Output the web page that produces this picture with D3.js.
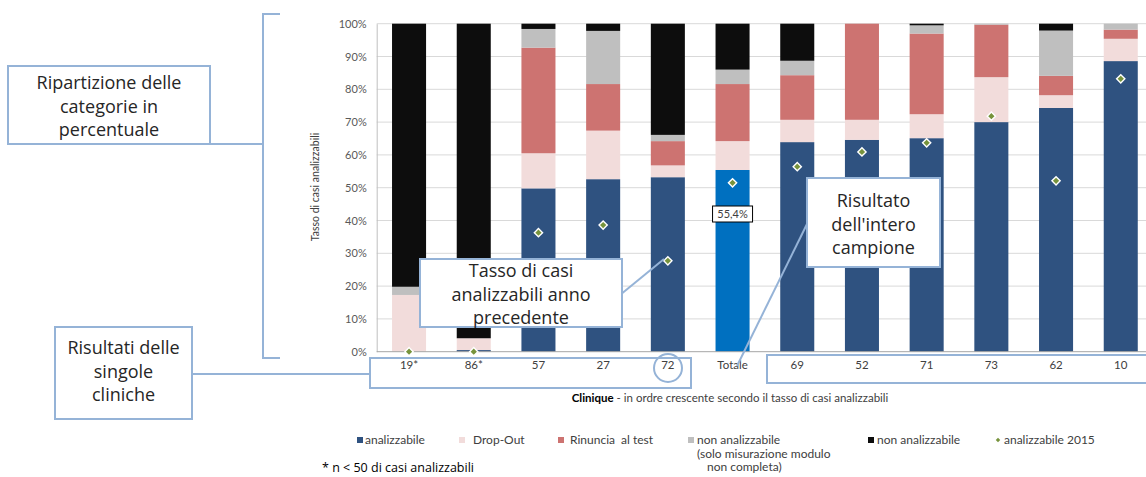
<!DOCTYPE html>
<html><head><meta charset="utf-8">
<script src="https://cdn.jsdelivr.net/npm/d3@7"></script>
<style>
body{margin:0;background:#fff;}
svg{display:block;}
</style></head>
<body>
<svg id="c" width="1146" height="477"></svg>
<script>
const categories = ["19*","86*","57","27","72","Totale","69","52","71","73","62","10"];
const analizzabile = [0, 0.5, 49.8, 52.6, 53.2, 55.4, 63.9, 64.6, 65.1, 70.0, 74.3, 88.6];
const dropOut      = [17.3, 3.6, 10.7, 14.8, 3.6, 8.8, 6.8, 6.1, 7.3, 13.7, 3.9, 6.8];
const rinuncia     = [0, 0, 32.2, 14.2, 7.4, 17.4, 13.6, 29.3, 24.6, 16.0, 5.9, 2.8];
const nonAnSolo    = [2.5, 0, 5.7, 16.2, 1.9, 4.4, 4.4, 0, 2.5, 0.3, 13.8, 1.8];
const nonAn        = [80.2, 95.9, 1.6, 2.2, 33.9, 14.0, 11.3, 0, 0.5, 0, 2.1, 0];
const prev2015     = [0, 0, 36.3, 38.6, 27.7, 51.5, 56.4, 60.9, 63.7, 71.8, 52.1, 83.2];
const yTicks = [0,10,20,30,40,50,60,70,80,90,100];
const seriesKeys = ["analizzabile","dropOut","rinuncia","nonAnSolo","nonAn"];
const seriesColors = {analizzabile:"#2F5280", dropOut:"#F2DCDB", rinuncia:"#CD7371", nonAnSolo:"#BFBFBF", nonAn:"#0D0D0D"};
const totalColor = "#0070C0";

const rows = categories.map((c,i)=>({cat:c, analizzabile:analizzabile[i], dropOut:dropOut[i], rinuncia:rinuncia[i], nonAnSolo:nonAnSolo[i], nonAn:nonAn[i], prev:prev2015[i]}));

const svg = d3.select("#c");
const x = d3.scaleBand().domain(categories).range([376.7, 1153.1]).paddingInner(0.474).paddingOuter(0.237);
const y = d3.scaleLinear().domain([0,100]).range([351.7, 23.7]);
const chartFont = "Lato, 'Liberation Sans', sans-serif";
const narrowFont = "'Liberation Sans Narrow', 'Arial Narrow', Lato, sans-serif";
const annFont = "'Open Sans', 'Noto Sans', sans-serif";
const lineBlue = "#95B3D7";

// gridlines
svg.append("g").selectAll("line").data(yTicks.filter(t=>t>0)).join("line")
  .attr("x1",376.7).attr("x2",1146).attr("y1",d=>y(d)).attr("y2",d=>y(d))
  .attr("stroke","#D9D9D9").attr("stroke-width",1);

// stacked bars
const stack = d3.stack().keys(seriesKeys);
const stacked = stack(rows);
svg.append("g").selectAll("g").data(stacked).join("g")
  .each(function(s){
    d3.select(this).selectAll("rect").data(s).join("rect")
      .attr("x",d=>x(d.data.cat)).attr("width",x.bandwidth())
      .attr("y",d=>y(d[1])).attr("height",d=>Math.max(0,y(d[0])-y(d[1])))
      .attr("fill",d=> (s.key==="analizzabile" && d.data.cat==="Totale") ? totalColor : seriesColors[s.key]);
  });

// axes
const yAxis = d3.axisLeft(y).tickValues(yTicks).tickFormat(d=>d+"%").tickSize(0).tickPadding(10);
const gy = svg.append("g").attr("transform","translate(376.7,0)").call(yAxis);
gy.select(".domain").attr("stroke","#BFBFBF");
gy.selectAll("text").attr("font-family",chartFont).attr("font-size",11).attr("fill","#595959");

const xAxis = d3.axisBottom(x).tickSize(0).tickPadding(9);
const gx = svg.append("g").attr("transform","translate(0,351.7)").call(xAxis);
gx.select(".domain").attr("stroke","#A6A6A6").attr("d","M376.7,0H1146");
gx.selectAll("text").attr("font-family",narrowFont).attr("font-size",11.5).attr("fill","#404040");

// previous-year diamonds (rotated squares)
const sq = d3.symbol().type(d3.symbolSquare);
svg.append("g").selectAll("path").data(rows).join("path")
  .attr("d", sq.size(34)())
  .attr("transform", d=>`translate(${x(d.cat)+x.bandwidth()/2},${y(d.prev)}) rotate(45)`)
  .attr("fill","#77933C").attr("stroke","#fff").attr("stroke-width",1.4);

// data label Totale
const tot = rows.find(r=>r.cat==="Totale");
const lx = x("Totale")+x.bandwidth()/2, ly = 214;
svg.append("rect").attr("x",lx-20).attr("y",ly-8).attr("width",40).attr("height",16)
  .attr("fill","#fff").attr("stroke","#000").attr("stroke-width",1);
svg.append("text").attr("x",lx).attr("y",ly+4).attr("text-anchor","middle")
  .attr("font-family",chartFont).attr("font-size",11).attr("fill","#404040")
  .text(d3.format(".1f")(tot.analizzabile).replace(".",",")+"%");

// axis titles
svg.append("text").attr("transform","translate(319,187) rotate(-90)").attr("text-anchor","middle")
  .attr("font-family",narrowFont).attr("font-size",10.5).attr("fill","#404040")
  .text("Tasso di casi analizzabili");
const xt = svg.append("text").attr("x",730).attr("y",402).attr("text-anchor","middle")
  .attr("font-family",narrowFont).attr("font-size",11.5).attr("fill","#404040");
xt.append("tspan").attr("font-weight","bold").attr("fill","#000").text("Clinique");
xt.append("tspan").text(" - in ordre crescente secondo il tasso di casi analizzabili");

// legend
const legendItems = [
  {label:["analizzabile"], color:seriesColors.analizzabile, sx:357, tx:365, type:"sq"},
  {label:["Drop-Out"], color:seriesColors.dropOut, sx:459, tx:473, type:"sq"},
  {label:["Rinuncia  al test"], color:seriesColors.rinuncia, sx:558, tx:570, type:"sq"},
  {label:["non analizzabile","(solo misurazione modulo","non completa)"], color:seriesColors.nonAnSolo, sx:688, tx:697, type:"sq"},
  {label:["non analizzabile"], color:seriesColors.nonAn, sx:868, tx:877, type:"sq"},
  {label:["analizzabile 2015"], color:"#77933C", sx:996, tx:1004, type:"dia"}
];
const lg = svg.append("g");
legendItems.forEach(it=>{
  if(it.type==="sq"){
    lg.append("rect").attr("x",it.sx).attr("y",437).attr("width",6).attr("height",6).attr("fill",it.color);
  } else {
    lg.append("path").attr("d",sq.size(10)()).attr("transform",`translate(${it.sx+2},440) rotate(45)`).attr("fill",it.color);
  }
  it.label.forEach((l,k)=>{
    lg.append("text").attr("x",it.tx + (k===2?10:0)).attr("y",444+k*13.5)
      .attr("font-family",chartFont).attr("font-size",12).attr("fill","#404040")
      .style("white-space","pre").text(l);
  });
});
svg.append("text").attr("x",322).attr("y",472).attr("font-family",annFont).attr("font-size",12.5).attr("fill","#000")
  .text("* n < 50 di casi analizzabili");

// annotations
function annBox(x0,y0,w,h,lines,cy0,dy){
  svg.append("rect").attr("x",x0).attr("y",y0).attr("width",w).attr("height",h)
    .attr("fill","#fff").attr("stroke",lineBlue).attr("stroke-width",2);
  lines.forEach((l,i)=>{
    svg.append("text").attr("x",x0+w/2).attr("y",cy0+i*dy).attr("text-anchor","middle")
      .attr("font-family",annFont).attr("font-size",18).attr("fill","#262626").text(l);
  });
}
const conn = svg.append("g").attr("fill","none").attr("stroke",lineBlue).attr("stroke-width",2);
// bracket for percentages
conn.append("path").attr("d","M280,14H263V358H280");
conn.append("path").attr("d","M210,144H263");
annBox(8,66,202,78,["Ripartizione delle","categorie in","percentuale"],89,23.5);

// singole cliniche
conn.append("path").attr("d","M192,374H370");
conn.append("rect").attr("x",370).attr("y",358).attr("width",321).attr("height",30);
conn.append("rect").attr("x",767).attr("y",355).attr("width",390).attr("height",28);
conn.append("circle").attr("cx",668).attr("cy",368).attr("r",14);
annBox(55,327,137,92,["Risultati delle","singole","cliniche"],354,23.5);

// anno precedente
conn.append("path").attr("d","M620,295L664,259");
annBox(420,259,202,68,["Tasso di casi","analizzabili anno","precedente"],277,23.5);

// intero campione
conn.append("path").attr("d","M808,222L737,366");
annBox(807,178,133,89,["Risultato","dell'intero","campione"],207,23.5);
</script>
</body></html>
